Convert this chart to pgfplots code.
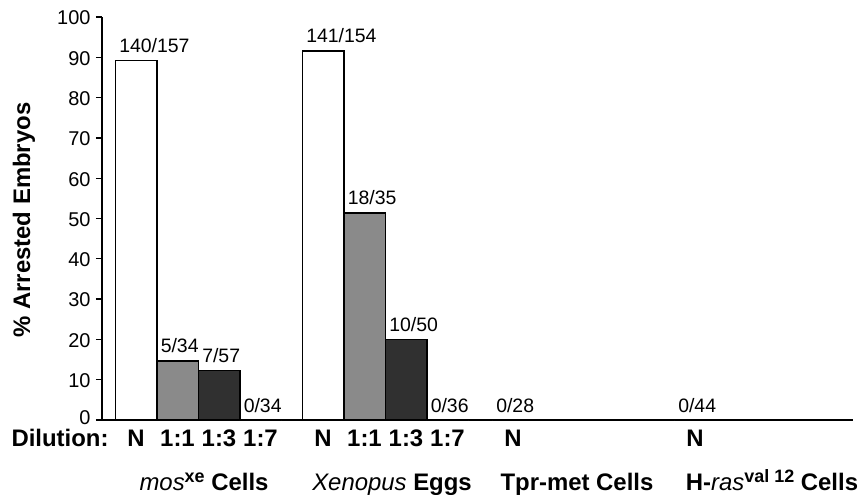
\documentclass[border=0pt]{standalone}
\usepackage{fontspec}
\setmainfont{Liberation Sans}
\usepackage{pgfplots}
\usepackage{pgfplotstable}
\pgfplotsset{compat=1.18}
\definecolor{midgray}{HTML}{8A8A8A}
\definecolor{darkbar}{HTML}{303030}
\newcommand{\sups}[1]{\raisebox{0.36em}{\fontsize{18}{19}\selectfont\bfseries #1}}
\pgfplotstableread{
x y lab
136 89.2 140/157
323 91.6 141/154
513 0 0/28
695 0 0/44
}\tblN
\pgfplotstableread{
x y lab
177.5 14.7 5/34
364.5 51.4 18/35
}\tblA
\pgfplotstableread{
x y lab
219 12.3 7/57
406 20 10/50
}\tblB
\pgfplotstableread{
x y lab
260.5 0 0/34
447.5 0 0/36
}\tblC
\begin{document}
\begin{tikzpicture}
\begin{axis}[
  scale only axis, width=751bp, height=403bp,
  xmin=102, xmax=853, ymin=0, ymax=100,
  clip=false,
  axis x line=bottom, axis y line=left,
  axis line style={line width=1.6bp,-},
  ytick={10,20,...,100},
  extra y ticks={0},
  extra y tick style={yticklabel style={yshift=3bp}},
  tick align=outside, major tick length=6bp,
  ytick style={line width=1.3bp, black},
  xtick={136,177.5,219,260.5,323,364.5,406,447.5,513,695},
  xticklabels={N,1:1,1:3,1:7,N,1:1,1:3,1:7,N,N},
  xtick style={draw=none},
  xticklabel style={font=\bfseries\fontsize{24}{26}\selectfont, anchor=base, yshift=-20.5bp},
  yticklabel style={font=\fontsize{20}{22}\selectfont, xshift=-2bp, yshift=-1bp},
  /pgf/number format/assume math mode=true,
  ylabel={\% Arrested Embryos},
  ylabel style={font=\bfseries\fontsize{24}{26}\selectfont, at={(axis description cs:-0.1039,0.496)}, anchor=center},
  ybar, bar width=41.5,
  nodes near coords, point meta=explicit symbolic,
  every node near coord/.append style={anchor=south west, inner sep=0pt, xshift=-17.5bp, yshift=7bp, font=\fontsize{19.5}{21}\selectfont},
]
\addplot[bar shift=0pt, draw=black, line width=1.5bp, fill=white] table[x=x,y=y,meta=lab]{\tblN};
\addplot[bar shift=0pt, draw=black, line width=1.5bp, fill=midgray] table[x=x,y=y,meta=lab]{\tblA};
\addplot[bar shift=0pt, draw=black, line width=1.5bp, fill=darkbar] table[x=x,y=y,meta=lab]{\tblB};
\addplot[bar shift=0pt, draw=black, line width=1.5bp, fill=white] table[x=x,y=y,meta=lab]{\tblC};
\node[anchor=base, inner sep=0pt, font=\bfseries\fontsize{24}{26}\selectfont] at (axis cs:60,-6.6) {Dilution:};
\node[anchor=base, font=\bfseries\fontsize{24}{26}\selectfont] at (axis cs:204,-17.6) {{\mdseries\itshape mos}\sups{xe} Cells};
\node[anchor=base, font=\bfseries\fontsize{24}{26}\selectfont] at (axis cs:392,-17.6) {{\mdseries\itshape Xenopus} Eggs};
\node[anchor=base, font=\bfseries\fontsize{24}{26}\selectfont] at (axis cs:577,-17.6) {Tpr-met Cells};
\node[anchor=base, font=\bfseries\fontsize{24}{26}\selectfont] at (axis cs:772,-17.6) {H-{\mdseries\itshape ras}\sups{val 12} Cells};
\coordinate (bbl) at (axis cs:0,-18.61);
\coordinate (btr) at (axis cs:865,104.22);
\end{axis}
\pgfresetboundingbox
\useasboundingbox (bbl) rectangle (btr);
\end{tikzpicture}
\end{document}
